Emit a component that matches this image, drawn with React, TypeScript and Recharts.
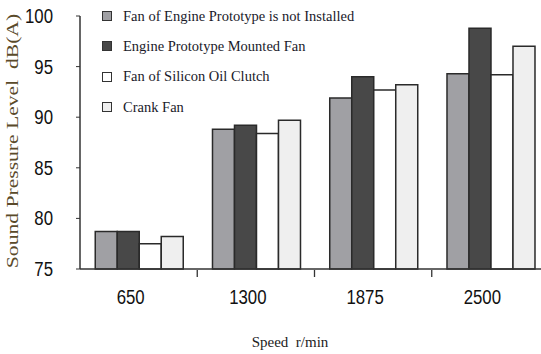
import { Bar, BarChart, XAxis, YAxis, Legend } from "recharts"

const categories = ["650", "1300", "1875", "2500"]
const seriesNames = [
  "Fan of Engine Prototype is not Installed",
  "Engine Prototype Mounted Fan",
  "Fan of Silicon Oil Clutch",
  "Crank Fan",
]
const notInstalled = [78.7, 88.8, 91.9, 94.3]
const mountedFan = [78.7, 89.2, 94.0, 98.8]
const siliconClutch = [77.5, 88.4, 92.7, 94.2]
const crankFan = [78.2, 89.7, 93.2, 97.0]
const yTicks = [75, 80, 85, 90, 95, 100]

const colors = ["#a0a0a4", "#484848", "#ffffff", "#efefef"]
const keys = ["s1", "s2", "s3", "s4"]

const data = categories.map((name, i) => ({
  name,
  s1: notInstalled[i],
  s2: mountedFan[i],
  s3: siliconClutch[i],
  s4: crankFan[i],
}))

const W = 560
const H = 354
const M = { top: 16, right: 11, left: 20, bottom: 35 }
const Y_W = 60
const bandW = (W - M.left - M.right - Y_W) / categories.length

const numFont = "'Liberation Sans', Arial, sans-serif"
const serif = "'Liberation Serif', 'Times New Roman', serif"

function XTick(props: any) {
  const { x, y, payload, index } = props
  const left = x - bandW / 2
  const tx = x - 8
  const ty = y + 27
  return (
    <g>
      {index > 0 && <line x1={left} x2={left} y1={y} y2={y - 7} stroke="#333" strokeWidth={1.3} />}
      <text
        transform={`translate(${tx},${ty}) scale(0.8,1)`}
        textAnchor="middle"
        fontFamily={numFont}
        fontSize={21}
        fill="#111"
      >
        {payload.value}
      </text>
    </g>
  )
}

function YTick(props: any) {
  const { x, y, payload } = props
  return (
    <text
      transform={`translate(${x},${y + 7}) scale(0.8,1)`}
      textAnchor="end"
      fontFamily={numFont}
      fontSize={21}
      fill="#111"
    >
      {payload.value}
    </text>
  )
}

function YTitle() {
  return (
    <text
      transform="translate(18,141) rotate(-90) scale(1.35,1)"
      textAnchor="middle"
      fontFamily={serif}
      fontSize={16}
      fill="#5a4a2a"
      style={{ whiteSpace: "pre" }}
    >
      {"Sound Pressure Level  dB(A)"}
    </text>
  )
}

function XTitle() {
  return (
    <text x={290} y={347} textAnchor="middle" fontFamily={serif} fontSize={15} fill="#222" style={{ whiteSpace: "pre" }}>
      {"Speed  r/min"}
    </text>
  )
}

function LegendBox() {
  return (
    <div style={{ fontFamily: serif, fontSize: 14.5, color: "#1a1a2a" }}>
      {seriesNames.map((n, i) => (
        <div key={n} style={{ display: "flex", alignItems: "center", height: 30.3 }}>
          <span
            style={{
              display: "inline-block",
              width: 8,
              height: 8,
              background: colors[i],
              border: "1px solid #333",
              marginRight: 11,
            }}
          />
          <span style={{ whiteSpace: "nowrap", fontFamily: serif }}>{n}</span>
        </div>
      ))}
    </div>
  )
}

export default function App() {
  return (
    <div style={{ position: "fixed", top: 0, left: 0, width: 541, height: 354, overflow: "hidden", background: "#fff" }}>
      <BarChart width={W} height={H} data={data} margin={M} barCategoryGap="13%" barGap={0}>
        <XAxis
          dataKey="name"
          tickLine={false}
          axisLine={{ stroke: "#333", strokeWidth: 1.5 }}
          tick={<XTick />}
          height={50}
          interval={0}
          label={{ content: () => <XTitle /> }}
        />
        <YAxis
          domain={[75, 100]}
          ticks={yTicks}
          width={Y_W}
          tickSize={4}
          tickLine={{ stroke: "#333" }}
          axisLine={{ stroke: "#333", strokeWidth: 1.5 }}
          tick={<YTick />}
          tickMargin={23}
          label={{ content: () => <YTitle /> }}
        />
        <Legend
          layout="vertical"
          align="center"
          verticalAlign="middle"
          wrapperStyle={{ top: 1, left: 102, width: 320 }}
          content={<LegendBox />}
        />
        {keys.map((k, i) => (
          <Bar key={k} dataKey={k} name={seriesNames[i]} fill={colors[i]} stroke="#2a2a2a" strokeWidth={1.5} isAnimationActive={false} />
        ))}
      </BarChart>
    </div>
  )
}
